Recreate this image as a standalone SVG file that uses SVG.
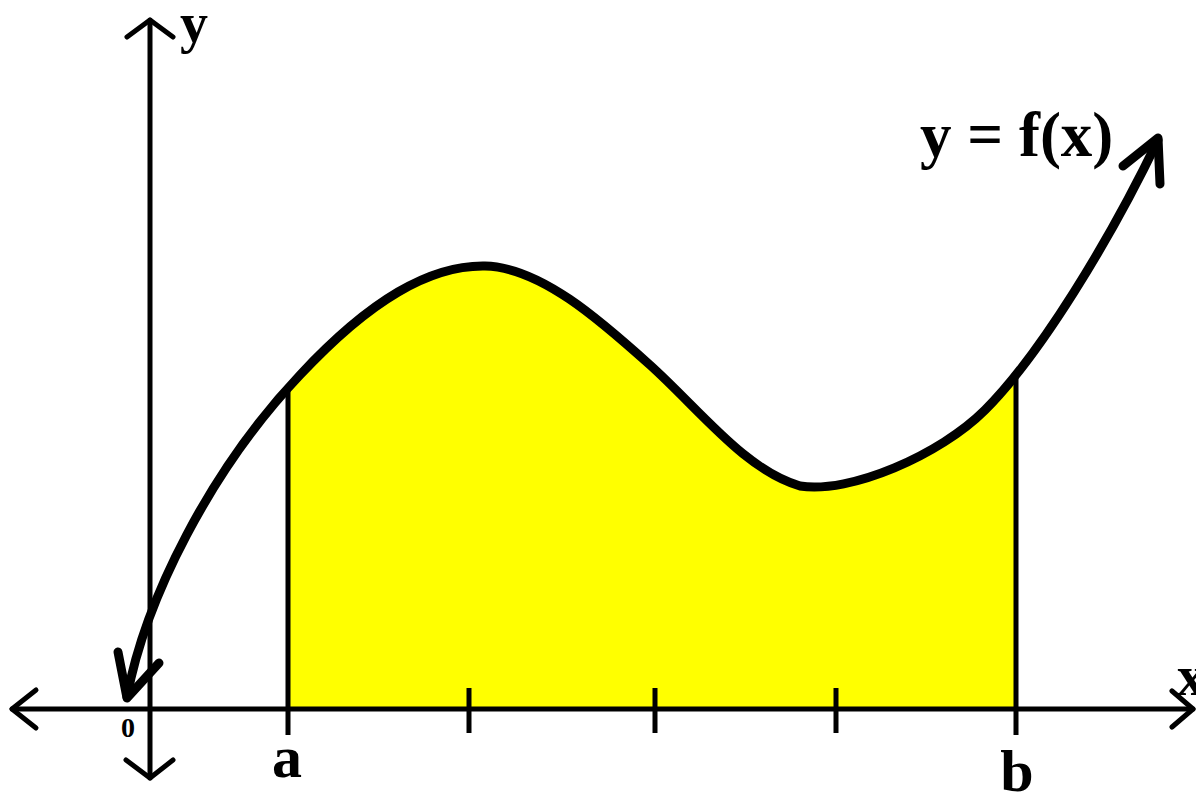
<svg xmlns="http://www.w3.org/2000/svg" width="1196" height="796" viewBox="0 0 1196 796">
<style>
.ax{fill:none;stroke:#000;stroke-width:5;stroke-linecap:round;stroke-linejoin:round}
.cv{fill:none;stroke:#000;stroke-width:9;stroke-linecap:round;stroke-linejoin:round}
.tk{stroke:#000;stroke-width:5}
.lb{font-family:"Liberation Serif","Times New Roman",serif;font-weight:bold;fill:#000}
</style>
<defs>
<clipPath id="ab"><rect x="288" y="0" width="728" height="709"/></clipPath>
</defs>
<g id="area">
<path clip-path="url(#ab)" fill="#ffff00" d="M127,697 C145,600 210,470 300,375 C370,300 430,265 485,266 C540,267 600,320 650,365 C700,410 745,470 800,486 C850,494 940,455 985,410 C1040,355 1110,240 1158,140 L1160,709 L127,709 Z"/>
</g>
<g id="connectors">
<line class="tk" x1="288" y1="388" x2="288" y2="735"/>
<line class="tk" x1="1016" y1="372" x2="1016" y2="735"/>
<line class="tk" x1="469" y1="688" x2="469" y2="733"/>
<line class="tk" x1="655" y1="688" x2="655" y2="733"/>
<line class="tk" x1="836" y1="688" x2="836" y2="733"/>
<g id="x-axis">
<line class="ax" x1="12" y1="709" x2="1193" y2="709"/>
<path class="ax" d="M36,690 L12,709 L36,728"/>
<path class="ax" d="M1172,691 L1193,709 L1172,727"/>
</g>
<g id="y-axis">
<line class="ax" x1="150" y1="20" x2="150" y2="778"/>
<path class="ax" d="M127,37 L150,20 L173,37"/>
<path class="ax" d="M126,760 L150,778 L173,760"/>
</g>
<g id="curve">
<path class="cv" d="M127,697 C145,600 210,470 300,375 C370,300 430,265 485,266 C540,267 600,320 650,365 C700,410 745,470 800,486 C850,494 940,455 985,410 C1040,355 1110,240 1158,140"/>
<path class="cv" d="M118,652 L127,698 L159,663"/>
<path class="cv" d="M1123,166 L1158,138 L1160,184"/>
</g>
</g>
<g id="labels">
<text class="lb" x="180" y="42" font-size="56">y</text>
<text class="lb" x="1177" y="695" font-size="56">x</text>
<text class="lb" x="920" y="156" font-size="63">y = f(x)</text>
<text class="lb" x="287" y="777" font-size="60" text-anchor="middle">a</text>
<text class="lb" x="1017" y="791" font-size="60" text-anchor="middle">b</text>
<text class="lb" x="128" y="737" font-size="28" text-anchor="middle">0</text>
</g>
</svg>
